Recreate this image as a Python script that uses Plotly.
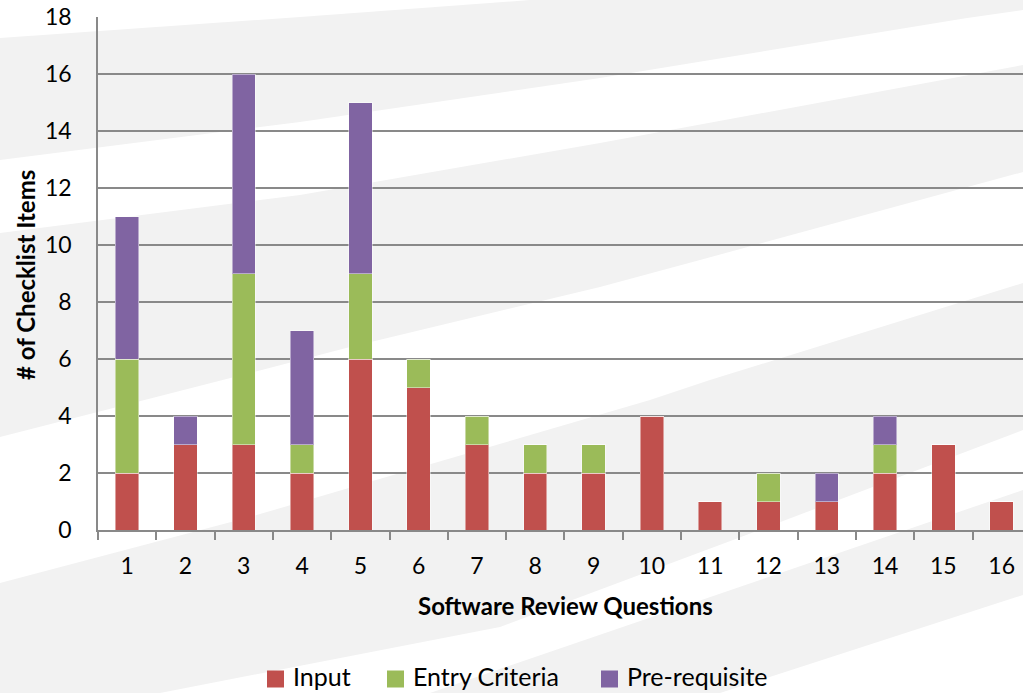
import plotly.graph_objects as go

# ---- data ----
questions = [str(i) for i in range(1, 17)]
input_vals = [2, 3, 3, 2, 6, 5, 3, 2, 2, 4, 1, 1, 1, 2, 3, 1]
entry_vals = [4, 0, 6, 1, 3, 1, 1, 1, 1, 0, 0, 1, 0, 1, 0, 0]
prereq_vals = [5, 1, 7, 4, 6, 0, 0, 0, 0, 0, 0, 0, 1, 1, 0, 0]
series_names = ["Input", "Entry Criteria", "Pre-requisite"]
series_colors = ["#C0504D", "#9BBB59", "#8064A2"]
y_ticks = list(range(0, 19, 2))

# ---- layout geometry (pixels) ----
W, H = 1023, 693
L, R, T, B = 98, 0, 17, 163
PW, PH = W - L - R, H - T - B
FONT = "Lato, 'Open Sans', sans-serif"


def px2paper(px, py):
    return (px - L) / PW, (H - B - py) / PH


# decorative background stripes (pixel polygons)
stripes = [
    [(0, 38), (300, 17), (530, 0), (1023, 0), (1023, 10), (967, 18), (600, 78), (300, 122), (0, 160)],
    [(0, 233), (300, 195), (600, 143), (1023, 65), (1023, 172), (700, 260), (600, 287), (350, 347), (250, 373), (0, 437)],
    [(0, 583), (250, 517), (400, 473), (650, 400), (710, 380), (1023, 283), (1023, 430), (733, 540), (500, 627), (160, 693), (0, 693)],
    [(430, 693), (760, 580), (1023, 490), (1023, 595), (720, 693)],
]

shapes = []
for poly in stripes:
    pts = [px2paper(x, y) for x, y in poly]
    path = "M" + " L".join(f"{x:.5f},{y:.5f}" for x, y in pts) + " Z"
    shapes.append(dict(type="path", xref="paper", yref="paper", path=path,
                       fillcolor="#F2F2F2", line=dict(width=0), layer="below"))

fig = go.Figure()
for name, vals, col in zip(series_names, [input_vals, entry_vals, prereq_vals], series_colors):
    fig.add_trace(go.Bar(
        x=questions, y=vals, name=name, width=0.4,
        marker=dict(color=col, line=dict(color="rgba(255,255,255,0.45)", width=1)),
    ))

# ---- legend drawn at fixed pixel positions (squares + labels) ----
legend_square_x = [267, 387, 601]
legend_text_x = [292, 412, 626]
legend_cy = 679
SQ = 17
annotations = []
for name, col, sx, tx in zip(series_names, series_colors, legend_square_x, legend_text_x):
    x0, y0 = px2paper(sx, legend_cy + SQ / 2)
    x1, y1 = px2paper(sx + SQ, legend_cy - SQ / 2)
    shapes.append(dict(type="rect", xref="paper", yref="paper", x0=x0, x1=x1, y0=y0, y1=y1,
                       fillcolor=col, line=dict(width=0)))
    annotations.append(dict(text=name, xref="paper", yref="paper",
                            x=px2paper(tx, 0)[0], y=px2paper(0, H - 1)[1],
                            xanchor="left", yanchor="bottom", showarrow=False, borderpad=0,
                            font=dict(family=FONT, size=25, color="black")))

annotations += [
    dict(text="<b>Software Review Questions</b>", xref="paper", yref="paper",
         x=px2paper(565, 0)[0], y=px2paper(0, 605)[1], xanchor="center", yanchor="middle",
         showarrow=False, font=dict(family=FONT, size=24)),
    dict(text="<b># of Checklist Items</b>", xref="paper", yref="paper",
         x=px2paper(25, 0)[0], y=px2paper(0, 275)[1], xanchor="center", yanchor="middle",
         textangle=-90, showarrow=False, font=dict(family=FONT, size=24)),
]

n_visible = (W - L) / 58.3
fig.update_layout(
    barmode="stack",
    width=W, height=H,
    margin=dict(l=L, r=R, t=T, b=B, pad=0),
    paper_bgcolor="white",
    plot_bgcolor="rgba(0,0,0,0)",
    font=dict(family=FONT, size=23, color="black"),
    shapes=shapes,
    showlegend=False,
    xaxis=dict(
        type="category", range=[-0.5, -0.5 + n_visible],
        tickson="boundaries", ticks="outside", ticklen=8, tickwidth=1.5,
        tickcolor="#898989", showline=True, linecolor="#898989", linewidth=1.5,
        showgrid=False, zeroline=False, ticklabelstandoff=15,
        tickfont=dict(family=FONT, size=23), automargin=False,
    ),
    yaxis=dict(
        range=[0, 18], tickvals=y_ticks, showgrid=True, gridcolor="#898989",
        gridwidth=1.5, showline=True, linecolor="#898989", linewidth=1.5,
        zeroline=False, ticks="outside", ticklen=20, tickcolor="rgba(0,0,0,0)",
        tickfont=dict(family=FONT, size=23), automargin=False,
    ),
    annotations=annotations,
)

fig.write_html("out.html")
